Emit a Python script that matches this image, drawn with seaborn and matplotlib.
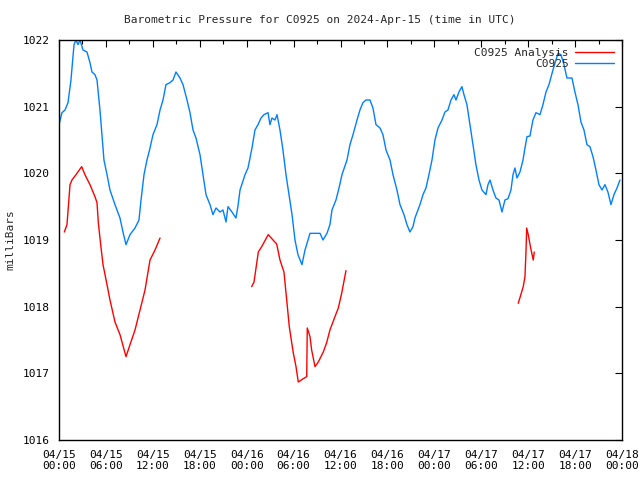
import matplotlib
matplotlib.use('Agg')
import matplotlib.pyplot as plt
import numpy as np
import pandas as pd
import seaborn as sns
from matplotlib.ticker import MultipleLocator

# hours since 2024-04-15 00:00 UTC, station pressure (mbar)
obs_hours = [0.0, 0.38, 0.77, 1.15, 1.53, 1.92, 2.17, 2.43, 2.69, 3.07, 3.58, 3.96, 4.22, 4.60, 4.86,
             5.24, 5.75, 6.14, 6.52, 7.16, 7.80, 8.18, 8.57, 9.08, 9.72, 10.23, 10.49, 10.87, 11.25,
             11.64, 12.02, 12.53, 12.92, 13.30, 13.68, 14.19, 14.58, 14.96, 15.47, 15.86, 16.37,
             16.75, 17.14, 17.52, 18.03, 18.41, 18.80, 19.31, 19.69, 20.08, 20.59, 20.97, 21.36,
             21.61, 22.12, 22.63, 22.89, 23.15, 23.79, 24.17, 24.68, 25.06, 25.45, 25.83, 26.21,
             26.73, 26.98, 27.24, 27.62, 27.88, 28.26, 28.64, 29.03, 29.41, 29.80, 30.18, 30.56,
             31.07, 31.46, 31.84, 32.10, 32.74, 33.38, 33.76, 34.27, 34.65, 34.91, 35.42, 35.81,
             36.19, 36.83, 37.21, 37.60, 38.11, 38.49, 38.87, 39.26, 39.77, 40.15, 40.54, 41.05,
             41.43, 41.82, 42.33, 42.71, 43.22, 43.61, 44.12, 44.50, 44.88, 45.27, 45.52, 45.91,
             46.16, 46.55, 46.93, 47.31, 47.70, 48.08, 48.47, 48.98, 49.36, 49.74, 50.13, 50.51,
             50.77, 51.15, 51.53, 51.79, 52.17, 52.56, 52.94, 53.32, 53.71, 54.09, 54.60, 54.86,
             55.12, 55.50, 55.88, 56.27, 56.65, 57.03, 57.42, 57.80, 58.06, 58.31, 58.57, 58.95,
             59.34, 59.59, 59.85, 60.23, 60.61, 61.00, 61.51, 61.89, 62.28, 62.66, 63.17, 63.55,
             63.81, 64.19, 64.58, 64.96, 65.60, 65.98, 66.37, 66.75, 67.14, 67.52, 67.90, 68.29,
             68.67, 69.05, 69.44, 69.82, 70.20, 70.59, 70.97, 71.36, 71.74]
obs_mbar = [1020.73, 1020.91, 1020.95, 1021.06, 1021.40, 1021.93, 1022.00, 1021.93, 1022.00, 1021.85,
            1021.82, 1021.66, 1021.52, 1021.48, 1021.40, 1020.95, 1020.20, 1019.98, 1019.75, 1019.53,
            1019.33, 1019.12, 1018.93, 1019.08, 1019.18, 1019.30, 1019.60, 1019.98, 1020.20, 1020.38,
            1020.58, 1020.73, 1020.95, 1021.10, 1021.33, 1021.36, 1021.40, 1021.52, 1021.43, 1021.33,
            1021.10, 1020.91, 1020.65, 1020.53, 1020.28, 1019.98, 1019.68, 1019.53, 1019.38, 1019.48,
            1019.42, 1019.45, 1019.27, 1019.50, 1019.42, 1019.33, 1019.51, 1019.75, 1019.98, 1020.08,
            1020.38, 1020.65, 1020.73, 1020.83, 1020.88, 1020.91, 1020.73, 1020.83, 1020.80, 1020.88,
            1020.65, 1020.35, 1019.98, 1019.68, 1019.38, 1019.00, 1018.78, 1018.63, 1018.85, 1019.00,
            1019.10, 1019.10, 1019.10, 1019.00, 1019.10, 1019.23, 1019.45, 1019.60, 1019.78, 1019.98,
            1020.20, 1020.43, 1020.58, 1020.80, 1020.95, 1021.06, 1021.10, 1021.10, 1020.98, 1020.73,
            1020.68, 1020.58, 1020.35, 1020.20, 1019.98, 1019.75, 1019.53, 1019.38, 1019.23, 1019.12,
            1019.20, 1019.33, 1019.45, 1019.53, 1019.68, 1019.78, 1019.98, 1020.20, 1020.50, 1020.68,
            1020.80, 1020.92, 1020.95, 1021.10, 1021.18, 1021.10, 1021.22, 1021.30, 1021.18, 1021.03,
            1020.73, 1020.43, 1020.13, 1019.90, 1019.75, 1019.68, 1019.83, 1019.90, 1019.75, 1019.63,
            1019.60, 1019.42, 1019.60, 1019.62, 1019.75, 1019.98, 1020.08, 1019.93, 1020.02, 1020.20,
            1020.38, 1020.55, 1020.56, 1020.80, 1020.91, 1020.88, 1021.03, 1021.22, 1021.33, 1021.55,
            1021.70, 1021.80, 1021.78, 1021.63, 1021.43, 1021.43, 1021.22, 1021.03, 1020.77, 1020.65,
            1020.43, 1020.40, 1020.25, 1020.05, 1019.83, 1019.75, 1019.83, 1019.72, 1019.53, 1019.68,
            1019.78, 1019.90]

# analysis pressure, three separate runs
ana_hours = [0.68, 1.02, 1.41, 1.66, 2.17, 2.90, 3.32, 3.96, 4.60, 4.86, 5.03, 5.33, 5.63, 6.14,
             6.52, 7.16, 7.80, 8.57, 9.08, 9.72, 10.36, 11.00, 11.64, 12.28, 12.92,
             24.64, 24.94, 25.49, 25.92, 26.76, 27.37, 27.84, 28.26, 28.77, 29.12, 29.45, 29.76,
             29.96, 30.31, 30.60, 31.24, 31.68, 31.75, 32.10, 32.31, 32.74, 33.16, 33.80, 34.23,
             34.65, 35.29, 35.72, 36.15, 36.70,
             58.73, 59.37, 59.59, 59.72, 59.81, 60.01, 60.32, 60.65, 60.78]
ana_mbar = [1019.12, 1019.23, 1019.83, 1019.90, 1019.98, 1020.10, 1019.98, 1019.83, 1019.65, 1019.56,
            1019.26, 1018.93, 1018.63, 1018.33, 1018.10, 1017.77, 1017.58, 1017.25, 1017.43, 1017.65,
            1017.95, 1018.25, 1018.70, 1018.85, 1019.03,
            1018.30, 1018.37, 1018.82, 1018.90, 1019.08, 1019.00, 1018.94, 1018.70, 1018.52, 1018.10,
            1017.70, 1017.46, 1017.31, 1017.10, 1016.87, 1016.92, 1016.95, 1017.68, 1017.55, 1017.35,
            1017.10, 1017.17, 1017.32, 1017.46, 1017.65, 1017.85, 1017.98, 1018.20, 1018.54,
            1018.05, 1018.30, 1018.45, 1018.82, 1019.18, 1019.08, 1018.88, 1018.70, 1018.82]
ana_run = [1] * 25 + [2] * 29 + [3] * 9

tick_labels = ['04/15\n00:00', '04/15\n06:00', '04/15\n12:00', '04/15\n18:00',
               '04/16\n00:00', '04/16\n06:00', '04/16\n12:00', '04/16\n18:00',
               '04/17\n00:00', '04/17\n06:00', '04/17\n12:00', '04/17\n18:00',
               '04/18\n00:00']

sns.set_style('white')
plt.rcParams['font.family'] = ['DejaVu Sans Mono']
plt.rcParams['font.size'] = 8

obs = pd.DataFrame({'hours': obs_hours, 'mbar': obs_mbar})
ana = pd.DataFrame({'hours': ana_hours, 'mbar': ana_mbar, 'run': ana_run})

fig = plt.figure(figsize=(6.4, 4.8), dpi=100)
ax = fig.add_axes([59 / 640, 40 / 480, 563 / 640, 400 / 480])

sns.lineplot(data=ana, x='hours', y='mbar', units='run', estimator=None,
             color='#ff0000', lw=1, ax=ax, label='C0925 Analysis')
sns.lineplot(data=obs, x='hours', y='mbar', color='#0080ff', lw=1, ax=ax, label='C0925')

ax.set_xlim(0, 72)
ax.set_ylim(1016, 1022)
ax.set_xticks(np.arange(0, 73, 6))
ax.set_xticklabels(tick_labels)
ax.xaxis.set_minor_locator(MultipleLocator(3))
ax.set_yticks(np.arange(1016, 1023, 1))
ax.tick_params(axis='both', which='both', direction='in', top=True, right=True,
               colors='black', labelsize=8, length=5, width=0.8, pad=7)
ax.tick_params(axis='both', which='minor', length=3)
for s in ax.spines.values():
    s.set_color('black')
    s.set_linewidth(1)

ax.set_xlabel('')
ax.set_ylabel('milliBars', fontsize=8, labelpad=5)
fig.text(0.5, 1 - 20 / 480, 'Barometric Pressure for C0925 on 2024-Apr-15 (time in UTC)',
         ha='center', va='center', fontsize=8)

# one legend entry per series
handles, labels = ax.get_legend_handles_labels()
seen = {}
for h, l in zip(handles, labels):
    seen.setdefault(l, h)
ax.legend(list(seen.values()), list(seen.keys()), loc='upper right', frameon=False,
          markerfirst=False, handlelength=3.5, fontsize=8, borderaxespad=0.3,
          labelspacing=0.1, handletextpad=0.6)

fig.savefig('out.png', dpi=100)
